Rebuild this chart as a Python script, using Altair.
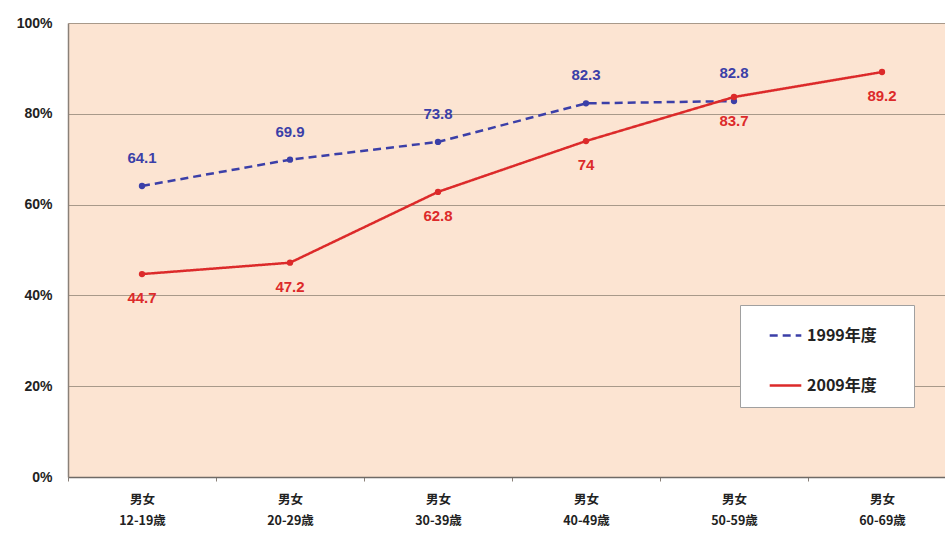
import altair as alt
import pandas as pd

# Age groups (male and female combined) and the rate for each survey year
ages = ["12-19歳", "20-29歳", "30-39歳", "40-49歳", "50-59歳", "60-69歳"]
years = ["1999年度", "2009年度"]
rate_1999 = [64.1, 69.9, 73.8, 82.3, 82.8]
rate_2009 = [44.7, 47.2, 62.8, 74, 83.7, 89.2]
y_ticks = [0, 20, 40, 60, 80, 100]

cats = ["男女\n" + a for a in ages]
rows = [{"cat": c, "year": years[0], "value": v} for c, v in zip(cats, rate_1999)]
rows += [{"cat": c, "year": years[1], "value": v} for c, v in zip(cats, rate_2009)]
df = pd.DataFrame(rows)

BLUE = "#3b3fa8"
RED = "#dc2a2a"
LABEL_FONT = "Liberation Sans"
CJK_FONT = "Noto Sans CJK JP"

legend = alt.Legend(
    title=None,
    orient="none",
    legendX=672,
    legendY=282,
    direction="vertical",
    fillColor="white",
    strokeColor="#a0a0a0",
    padding=13,
    rowPadding=24,
    symbolType="stroke",
    symbolSize=1000,
    symbolStrokeWidth=2.5,
    symbolOffset=15,
    labelFont=CJK_FONT,
    labelFontSize=16,
    labelFontWeight="bold",
    labelColor="#222222",
    labelOffset=4,
    # blank braille cells keep a right-hand margin inside the legend box
    labelExpr="datum.label + '\u2800\u2800'",
)

x = alt.X(
    "cat:N",
    sort=cats,
    scale=alt.Scale(domain=cats, range=[0, 888], paddingInner=0, paddingOuter=0),
    axis=alt.Axis(
        title=None,
        labelAngle=0,
        labelExpr="split(datum.label, '\\n')",
        labelFont=CJK_FONT,
        labelFontSize=12.5,
        labelFontWeight="bold",
        labelColor="#222222",
        labelLineHeight=21,
        labelPadding=12,
        tickBand="extent",
        tickSize=4,
        tickColor="#8a8078",
        domainColor="#6f6a66",
        domainWidth=1.5,
        grid=False,
    ),
)
y = alt.Y(
    "value:Q",
    scale=alt.Scale(domain=[0, 100], nice=False),
    axis=alt.Axis(
        title=None,
        values=y_ticks,
        labelExpr="datum.value + '%'",
        labelFont=LABEL_FONT,
        labelFontSize=14,
        labelFontWeight="bold",
        labelColor="#222222",
        labelPadding=16,
        ticks=False,
        domainColor="#8a8078",
        domainWidth=1.5,
        gridColor="#a8998a",
        gridWidth=1.2,
    ),
)
color = alt.Color("year:N", scale=alt.Scale(domain=years, range=[BLUE, RED]), legend=legend)
dash = alt.StrokeDash(
    "year:N", scale=alt.Scale(domain=years, range=[[8, 5], [1, 0]]), legend=legend
)

base = alt.Chart(df)
lines = base.mark_line(strokeWidth=2.5).encode(x=x, y=y, color=color, strokeDash=dash)
points = base.mark_point(filled=True, size=40, opacity=1).encode(
    x=x, y=y, color=alt.Color("year:N", scale=alt.Scale(domain=years, range=[BLUE, RED]), legend=None)
)

def value_labels(year, dy, col):
    return (
        base.transform_filter(alt.datum.year == year)
        .mark_text(dy=dy, font=LABEL_FONT, fontSize=15, fontWeight="bold", color=col)
        .encode(x=x, y=y, text=alt.Text("value:Q"))
    )

chart = (
    alt.layer(lines, points, value_labels(years[0], -28, BLUE), value_labels(years[1], 24, RED))
    .properties(
        width=877,
        height=454,
        autosize=alt.AutoSizeParams(type="none"),
        padding={"left": 68, "top": 23, "right": 0, "bottom": 58},
        background="white",
    )
    .configure_view(fill="#fce4d2", stroke=None)
)

chart.save("out.html", embed_options={"renderer": "svg", "actions": False})
